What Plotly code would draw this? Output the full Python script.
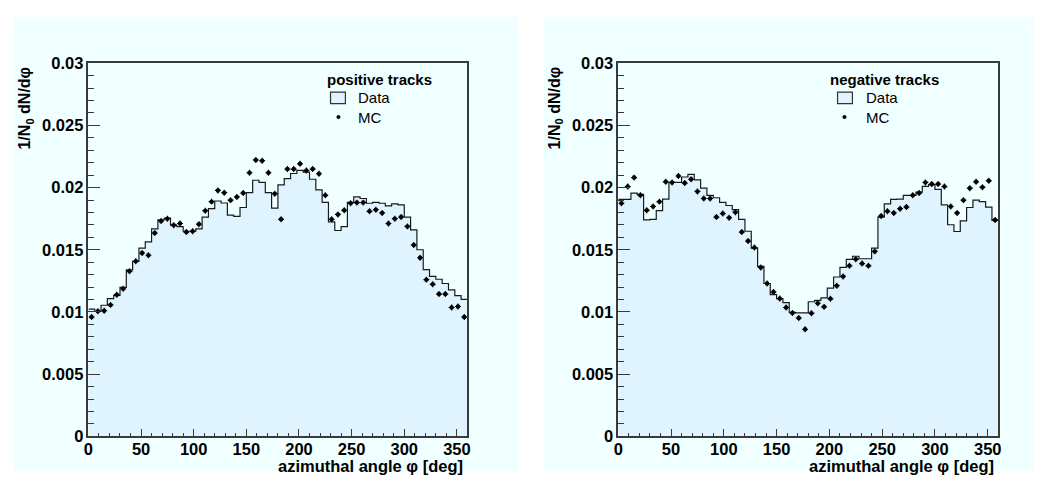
import numpy as np
import plotly.graph_objects as go

# ---------------- data ----------------
BIN_WIDTH = 6  # degrees, 60 bins over 0..360
bin_edges = np.arange(0, 360 + BIN_WIDTH, BIN_WIDTH)
bin_centers = bin_edges[:-1] + BIN_WIDTH / 2

pos_data = [0.01023, 0.01005, 0.01054, 0.01108, 0.01134, 0.01198, 0.01338, 0.01407, 0.01513, 0.01564,
            0.01668, 0.01740, 0.01755, 0.01698, 0.01686, 0.01649, 0.01649, 0.01668, 0.01763, 0.01830,
            0.01892, 0.01876, 0.01778, 0.01768, 0.01840, 0.01959, 0.02059, 0.02041, 0.01959, 0.01835,
            0.02021, 0.02072, 0.02113, 0.02139, 0.02124, 0.02067, 0.01982, 0.01881, 0.01724, 0.01655,
            0.01686, 0.01881, 0.01925, 0.01912, 0.01874, 0.01881, 0.01874, 0.01853, 0.01869, 0.01861,
            0.01763, 0.01660, 0.01500, 0.01340, 0.01286, 0.01263, 0.01229, 0.01178, 0.01131, 0.01101]

pos_mc = [0.00959, 0.01005, 0.01010, 0.01057, 0.01139, 0.01186, 0.01327, 0.01407, 0.01474, 0.01456,
          0.01634, 0.01732, 0.01750, 0.01698, 0.01711, 0.01642, 0.01649, 0.01706, 0.01814, 0.01887,
          0.01977, 0.01959, 0.01899, 0.01925, 0.01956, 0.02119, 0.02222, 0.02216, 0.02119, 0.01951,
          0.01745, 0.02149, 0.02149, 0.02191, 0.02137, 0.02149, 0.02111, 0.01938, 0.01745, 0.01784,
          0.01817, 0.01874, 0.01879, 0.01879, 0.01809, 0.01822, 0.01796, 0.01711, 0.01750, 0.01763,
          0.01688, 0.01539, 0.01436, 0.01260, 0.01222, 0.01144, 0.01144, 0.01036, 0.01044, 0.00959]

neg_data = [0.01905, 0.01905, 0.01956, 0.01946, 0.01740, 0.01745, 0.01814, 0.01907, 0.02041, 0.02041,
            0.02085, 0.02106, 0.02062, 0.01995, 0.01938, 0.01918, 0.01881, 0.01856, 0.01822, 0.01745,
            0.01649, 0.01513, 0.01366, 0.01229, 0.01139, 0.01108, 0.01075, 0.00997, 0.00992, 0.00992,
            0.01082, 0.01093, 0.01113, 0.01191, 0.01281, 0.01358, 0.01423, 0.01448, 0.01428, 0.01428,
            0.01513, 0.01763, 0.01869, 0.01905, 0.01907, 0.01938, 0.01938, 0.01964, 0.02010, 0.02023,
            0.01985, 0.01861, 0.01701, 0.01647, 0.01732, 0.01840, 0.01899, 0.01887, 0.01843, 0.01737]

neg_mc = [0.01874, 0.02008, 0.02080, 0.01938, 0.01817, 0.01848, 0.01887, 0.02046, 0.02041, 0.02093,
          0.02036, 0.02067, 0.01969, 0.01912, 0.01912, 0.01763, 0.01791, 0.01758, 0.01802, 0.01642,
          0.01570, 0.01518, 0.01358, 0.01229, 0.01160, 0.01108, 0.01036, 0.00992, 0.00951, 0.00861,
          0.00990, 0.01070, 0.01041, 0.01106, 0.01211, 0.01286, 0.01371, 0.01423, 0.01389, 0.01371,
          0.01487, 0.01771, 0.01809, 0.01796, 0.01830, 0.01843, 0.01938, 0.01956, 0.02041, 0.02028,
          0.02028, 0.02008, 0.01848, 0.01796, 0.01899, 0.01995, 0.02046, 0.02003, 0.02054, 0.01740]

panel_titles = ["positive tracks", "negative tracks"]
x_title = "azimuthal angle \u03c6 [deg]"
y_title = "<b>1/N<sub>0</sub> dN/d\u03c6</b>"

# ---------------- style ----------------
PAGE_MARGIN = 8            # default <body> margin of the page
W, H = 1045 - 2 * PAGE_MARGIN, 488 - 2 * PAGE_MARGIN
PAD_BG = "rgb(240,255,255)"
FILL = "rgb(223,244,255)"
FRAME = "#3a3a3a"
FONT = "Liberation Sans, Arial, Helvetica, sans-serif"

def px_x(p):  # window pixel -> paper fraction
    return (p - PAGE_MARGIN) / W

def px_y(p):
    return 1 - (p - PAGE_MARGIN) / H

panels = [
    dict(x0=84, x1=466, pad=(PAGE_MARGIN, 517), legx=322, boxx=328, dotx=336, textx=354,
         data=pos_data, mc=pos_mc, title=panel_titles[0], ytitle_x=21),
    dict(x0=618, x1=1001, pad=(543, 1045), legx=829, boxx=839, dotx=846, textx=866,
         data=neg_data, mc=neg_mc, title=panel_titles[1], ytitle_x=555),
]
Y_TOP, Y_BOT = 56, 444

fig = go.Figure()
shapes = []
annotations = []

for i, p in enumerate(panels):
    xa = "x" if i == 0 else "x2"
    ya = "y" if i == 0 else "y2"
    hist_y = list(p["data"]) + [p["data"][-1]]
    fig.add_trace(go.Scatter(
        x=bin_edges, y=hist_y, mode="lines", line_shape="hv",
        line=dict(color="#1a1a1a", width=1.2), fill="tozeroy", fillcolor=FILL,
        xaxis=xa, yaxis=ya, showlegend=False, hoverinfo="skip"))
    fig.add_trace(go.Scatter(
        x=bin_centers, y=p["mc"], mode="markers",
        marker=dict(color="black", size=4.5, symbol="circle"),
        error_y=dict(type="constant", value=0.00024, thickness=1.2, width=0, color="black"),
        error_x=dict(type="constant", value=2.8, thickness=1.2, width=0, color="black"),
        xaxis=xa, yaxis=ya, showlegend=False))

    shapes.append(dict(type="rect", xref="paper", yref="paper", layer="below",
                       x0=max(0, px_x(p["pad"][0])), x1=min(1, px_x(p["pad"][1])),
                       y0=max(0, px_y(481)), y1=min(1, px_y(PAGE_MARGIN)),
                       fillcolor=PAD_BG, line=dict(width=0)))
    annotations.append(dict(xref="paper", yref="paper", x=px_x(p["legx"]), y=px_y(73),
                            xanchor="left", yanchor="middle", showarrow=False,
                            text="<b>%s</b>" % p["title"],
                            font=dict(family=FONT, size=15, color="black")))
    shapes.append(dict(type="rect", xref="paper", yref="paper",
                       x0=px_x(p["boxx"]), x1=px_x(p["boxx"] + 15),
                       y0=px_y(98), y1=px_y(86), fillcolor=FILL,
                       line=dict(color="#333", width=1.2)))
    shapes.append(dict(type="circle", xref="paper", yref="paper",
                       x0=px_x(p["dotx"] - 1.8), x1=px_x(p["dotx"] + 1.8),
                       y0=px_y(112 + 1.8), y1=px_y(112 - 1.8), fillcolor="black",
                       line=dict(color="black", width=0.5)))
    annotations.append(dict(xref="paper", yref="paper", x=px_x(p["textx"]), y=px_y(92),
                            xanchor="left", yanchor="middle", showarrow=False, text="Data",
                            font=dict(family=FONT, size=15, color="black")))
    annotations.append(dict(xref="paper", yref="paper", x=px_x(p["textx"]), y=px_y(112),
                            xanchor="left", yanchor="middle", showarrow=False, text="MC",
                            font=dict(family=FONT, size=15, color="black")))
    annotations.append(dict(xref="paper", yref="paper", x=px_x(p["x1"] - 2), y=px_y(475),
                            xanchor="right", yanchor="middle", showarrow=False,
                            text="<b>%s</b>" % x_title,
                            font=dict(family=FONT, size=16.5, color="black")))
    annotations.append(dict(xref="paper", yref="paper", x=px_x(p["ytitle_x"]), y=px_y(57),
                            xanchor="center", yanchor="top", showarrow=False, textangle=-90,
                            text=y_title, font=dict(family=FONT, size=16, color="black")))

tickfont = dict(family=FONT, size=16.5, color="black", weight="bold")

def xaxis_cfg(p, anchor):
    return dict(domain=[px_x(p["x0"]), px_x(p["x1"])], anchor=anchor, range=[0, 360],
                dtick=50, tick0=0, ticks="inside", ticklen=8, tickwidth=1, tickcolor=FRAME,
                minor=dict(dtick=10, ticks="inside", ticklen=4, tickwidth=1, tickcolor=FRAME),
                showline=True, linecolor=FRAME, linewidth=1.5, mirror=True,
                showgrid=False, zeroline=False, tickfont=tickfont, fixedrange=True,
                ticklabelstandoff=-3)

def yaxis_cfg(anchor):
    return dict(domain=[px_y(Y_BOT), px_y(Y_TOP)], anchor=anchor, range=[0, 0.03],
                dtick=0.005, tick0=0, ticks="inside", ticklen=12, tickwidth=1, tickcolor=FRAME,
                minor=dict(dtick=0.001, ticks="inside", ticklen=6, tickwidth=1, tickcolor=FRAME),
                showline=True, linecolor=FRAME, linewidth=1.5, mirror=True,
                showgrid=False, zeroline=False, tickfont=tickfont, fixedrange=True)

fig.update_layout(
    width=W, height=H,
    margin=dict(l=0, r=0, t=0, b=0),
    paper_bgcolor="white", plot_bgcolor=PAD_BG,
    xaxis=xaxis_cfg(panels[0], "y"), yaxis=yaxis_cfg("x"),
    xaxis2=xaxis_cfg(panels[1], "y2"), yaxis2=yaxis_cfg("x2"),
    shapes=shapes, annotations=annotations, showlegend=False,
)

fig.write_html("out.html", config={"displayModeBar": False})
